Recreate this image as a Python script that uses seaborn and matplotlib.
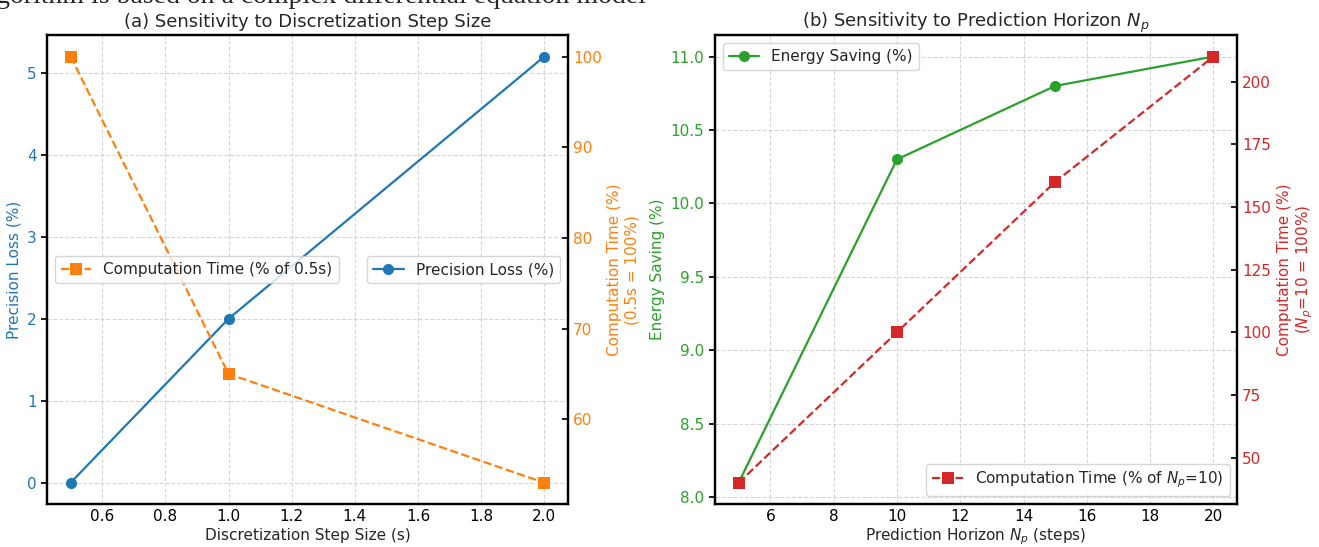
import seaborn as sns
import matplotlib.pyplot as plt

sns.set_theme(style='white')
plt.rcParams['font.family'] = ['DejaVu Sans']

# panel (a) data
step_size = [0.5, 1.0, 2.0]
precision_loss = [0.0, 2.0, 5.2]
comp_time_a = [100, 65, 53]

# panel (b) data
horizon = [5, 10, 15, 20]
energy_saving = [8.1, 10.3, 10.8, 11.0]
comp_time_b = [40, 100, 160, 210]

blue, orange, green, red = '#1f77b4', '#ff7f0e', '#2ca02c', '#d62728'

fig = plt.figure(figsize=(13.19, 5.47), dpi=100)
ax1 = fig.add_axes([0.0356, 0.0786, 0.395, 0.857])
ax3 = fig.add_axes([0.542, 0.0786, 0.396, 0.857])

# leftover line of the page above the figure, cut at the top edge
fig.text(0.49, 1 - 3 / 547, 'algorithm is based on a complex differential equation model',
         family='Liberation Serif', size=20, ha='right', va='baseline')


def style_axes(ax, axr, lcolor, rcolor):
    for a in (ax, axr):
        for s in a.spines.values():
            s.set_color('black')
            s.set_linewidth(1.6)
    ax.grid(True, linestyle='--', color='#cccccc', linewidth=0.8, alpha=0.8)
    ax.tick_params(axis='x', direction='in', colors='black', labelsize=11, length=4)
    ax.tick_params(axis='y', direction='out', colors='black', labelcolor=lcolor,
                   labelsize=11, length=4, left=True)
    axr.tick_params(axis='y', direction='in', colors='black', labelcolor=rcolor,
                    labelsize=11, length=4, right=True)


# ---- (a)
ax2 = ax1.twinx()
sns.lineplot(x=step_size, y=precision_loss, ax=ax1, color=blue, marker='o',
             markersize=8, markeredgewidth=0, linewidth=1.6, label='Precision Loss (%)')
sns.lineplot(x=step_size, y=comp_time_a, ax=ax2, color=orange, marker='s',
             markersize=8, markeredgewidth=0, linewidth=1.6, linestyle='--',
             label='Computation Time (% of 0.5s)')
style_axes(ax1, ax2, blue, orange)
ax1.set_title('(a) Sensitivity to Discretization Step Size', fontsize=13)
ax1.set_xlabel('Discretization Step Size (s)', fontsize=11, labelpad=3)
ax1.set_ylabel('Precision Loss (%)', color=blue, fontsize=11)
ax2.set_ylabel('Computation Time (%)\n(0.5s = 100%)', color=orange, fontsize=11)
ax1.legend(loc='center right', fontsize=11, frameon=True)
ax2.legend(loc='center left', fontsize=11, frameon=True)

# ---- (b)
ax4 = ax3.twinx()
sns.lineplot(x=horizon, y=energy_saving, ax=ax3, color=green, marker='o',
             markersize=8, markeredgewidth=0, linewidth=1.6, label='Energy Saving (%)')
sns.lineplot(x=horizon, y=comp_time_b, ax=ax4, color=red, marker='s',
             markersize=8, markeredgewidth=0, linewidth=1.6, linestyle='--',
             label='Computation Time (% of $N_p$=10)')
style_axes(ax3, ax4, green, red)
ax3.set_title('(b) Sensitivity to Prediction Horizon $N_p$', fontsize=13)
ax3.set_xlabel('Prediction Horizon $N_p$ (steps)', fontsize=11, labelpad=2)
ax3.set_ylabel('Energy Saving (%)', color=green, fontsize=11)
ax4.set_ylabel('Computation Time (%)\n($N_p$=10 = 100%)', color=red, fontsize=11)
ax3.legend(loc='upper left', fontsize=11, frameon=True)
ax4.legend(loc='lower right', fontsize=11, frameon=True)

fig.savefig('out.png', dpi=100)
